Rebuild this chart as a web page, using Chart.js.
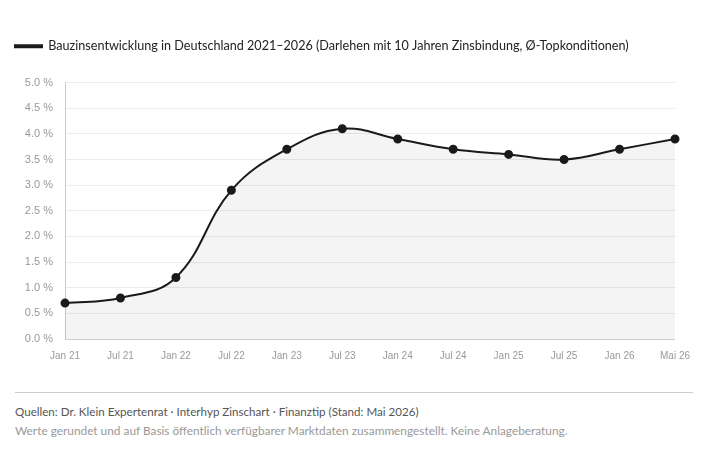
<!DOCTYPE html>
<html>
<head>
<meta charset="utf-8">
<script src="https://cdn.jsdelivr.net/npm/chart.js@4.4.1/dist/chart.umd.min.js"></script>
<style>
  body { margin: 0; background: #fff; width: 709px; height: 473px; overflow: hidden; }
  #wrap { position: absolute; left: 5px; top: 30px; width: 696px; height: 343px; }
  #footer { position: absolute; left: 15px; top: 392px; width: 678px; border-top: 1px solid #ccc;
    font-family: Lato, "Noto Sans", sans-serif; font-size: 11.6px; line-height: 18.5px; padding-top: 10px; }
  #footer .src { color: #555; }
  #footer .note { color: #999; font-size: 11.85px; }
</style>
</head>
<body>
<div id="wrap"><canvas id="lineChart"></canvas></div>
<div id="footer">
  <div class="src">Quellen: Dr. Klein Expertenrat · Interhyp Zinschart · Finanztip (Stand: Mai 2026)</div>
  <div class="note">Werte gerundet und auf Basis öffentlich verfügbarer Marktdaten zusammengestellt. Keine Anlageberatung.</div>
</div>
<script>
// Monate (Halbjahresschritte, letzter Wert Mai 26)
const labels = ["Jan 21", "Jul 21", "Jan 22", "Jul 22", "Jan 23", "Jul 23", "Jan 24", "Jul 24", "Jan 25", "Jul 25", "Jan 26", "Mai 26"];
// Bauzinsen in Prozent
const zinsen = [0.7, 0.8, 1.2, 2.9, 3.7, 4.1, 3.9, 3.7, 3.6, 3.5, 3.7, 3.9];
const yMin = 0;
const yMax = 5;
const yStep = 0.5;

// etwas mehr Platz unter der Legende
const legendSpace = {
    id: 'legendSpace',
    beforeInit(chart) {
        const origFit = chart.legend.fit;
        chart.legend.fit = function () {
            origFit.call(this);
            this.height += 20;
        };
    }
};

const ctx = document.getElementById('lineChart').getContext('2d');
const chart = new Chart(ctx, {
    type: 'line',
    data: {
        labels: labels,
        datasets: [{
            label: 'Bauzinsentwicklung in Deutschland 2021–2026 (Darlehen mit 10 Jahren Zinsbindung, Ø-Topkonditionen)',
            data: zinsen,
            borderColor: '#1a1a1a',
            backgroundColor: 'rgba(0,0,0,0.045)',
            borderWidth: 2,
            fill: true,
            tension: 0.4,
            pointRadius: 3.5,
            pointBackgroundColor: '#1a1a1a',
            pointBorderColor: '#1a1a1a',
            pointHoverRadius: 3.5
        }]
    },
    options: {
        responsive: true,
        maintainAspectRatio: false,
        animation: false,
        layout: { padding: 0 },
        plugins: {
            legend: {
                align: 'start',
                labels: {
                    boxWidth: 27,
                    boxHeight: 2,
                    color: '#222',
                    padding: 10,
                    font: { family: 'Lato, "Noto Sans", sans-serif', size: 12.6 }
                }
            },
            tooltip: { enabled: false }
        },
        scales: {
            x: {
                offset: false,
                grid: { display: false, drawTicks: false },
                border: { color: '#ccc' },
                ticks: {
                    color: '#999',
                    padding: 11,
                    maxRotation: 0,
                    autoSkip: false,
                    font: { family: '"Liberation Sans", Arial, sans-serif', size: 10 }
                }
            },
            y: {
                min: yMin,
                max: yMax,
                grid: { color: '#ececec', drawTicks: false },
                border: { color: '#ccc' },
                afterFit(axis) { axis.width = 60; },
                ticks: {
                    stepSize: yStep,
                    color: '#999',
                    padding: 12,
                    font: { family: '"Liberation Sans", Arial, sans-serif', size: 11 },
                    callback: v => v.toFixed(1) + ' %'
                }
            }
        }
    },
    plugins: [legendSpace]
});
</script>
</body>
</html>
